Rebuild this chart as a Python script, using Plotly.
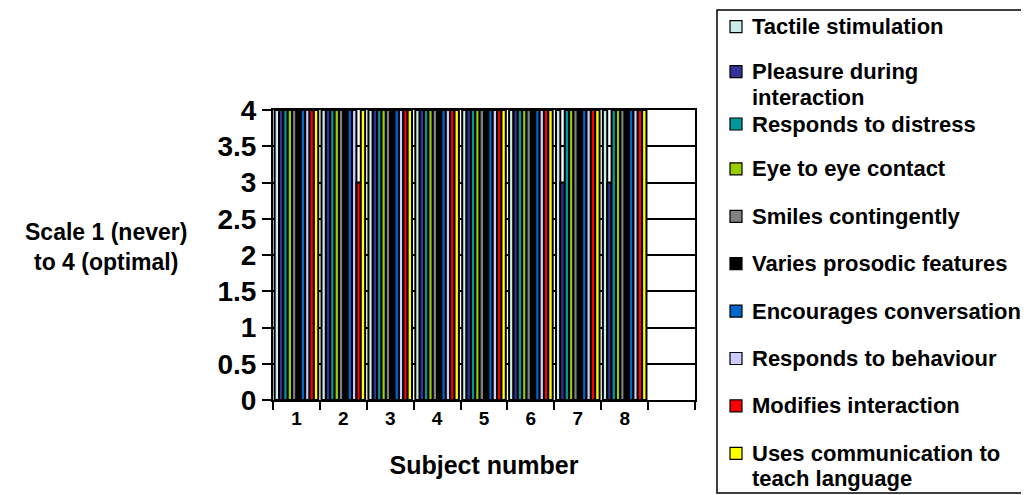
import plotly.graph_objects as go

subjects = ["1", "2", "3", "4", "5", "6", "7", "8"]
axis_categories = ["1", "2", "3", "4", "5", "6", "7", "8", " "]

series_names = [
    "Tactile stimulation",
    "Pleasure during<br>interaction",
    "Responds to distress",
    "Eye to eye contact",
    "Smiles contingently",
    "Varies prosodic features",
    "Encourages conversation",
    "Responds to behaviour",
    "Modifies interaction",
    "Uses communication to<br>teach language",
]
series_colors = ["#CCECEC", "#333399", "#009999", "#99CC00", "#808080",
                 "#000000", "#0066CC", "#CCCCFF", "#FF0000", "#FFFF00"]

tactile = [4, 4, 4, 4, 4, 4, 4, 4]
pleasure = [4, 4, 4, 4, 4, 4, 3, 3]
distress = [4, 4, 4, 4, 4, 4, 4, 4]
eye_contact = [4, 4, 4, 4, 4, 4, 4, 4]
smiles = [4, 4, 4, 4, 4, 4, 4, 4]
prosodic = [4, 4, 4, 4, 4, 4, 4, 4]
encourages = [4, 4, 4, 4, 4, 4, 4, 4]
behaviour = [4, 4, 4, 4, 4, 4, 4, 4]
modifies = [4, 3, 4, 4, 4, 4, 4, 4]
teach_language = [4, 4, 4, 4, 4, 4, 4, 4]

all_values = [tactile, pleasure, distress, eye_contact, smiles, prosodic,
              encourages, behaviour, modifies, teach_language]

y_ticks = [0, 0.5, 1, 1.5, 2, 2.5, 3, 3.5, 4]
y_ticktext = ["0", "0.5", "1", "1.5", "2", "2.5", "3", "3.5", "4"]

FONT = "Liberation Sans, Arial, sans-serif"

# page geometry (the page body adds an 8px offset)
OFF = 8
PL, PR, PT, PB = 273, 695, 110, 400          # plot area in page pixels
FIG_W, FIG_H = 1029 - OFF, 495 - OFF
PW, PH = PR - PL, PB - PT


def px(xp):
    return (xp - PL) / PW


def py(yp):
    return (PB - yp) / PH


fig = go.Figure()
for name, color, vals in zip(series_names, series_colors, all_values):
    fig.add_trace(go.Bar(
        x=subjects, y=vals, name=name.replace("<br>", " "), showlegend=False,
        marker=dict(color=color, line=dict(color="black", width=2)),
    ))

# hand-drawn legend box (matches the reference's fixed item spacing)
shapes = [dict(type="rect", xref="paper", yref="paper",
               x0=px(717), x1=px(1040), y0=py(493), y1=py(10),
               line=dict(color="black", width=1.5), fillcolor="rgba(0,0,0,0)",
               layer="above")]
annotations = []
LEG_TOP, LEG_STEP, LINE_GAP, NUDGE = 26.7, 47.4, 25.5, 2.5
LEG_FONT = dict(family=FONT, size=22, color="black", weight="bold")
prev_multi = False
for i, (name, color) in enumerate(zip(series_names, series_colors)):
    lines = name.split("<br>")
    multi = len(lines) > 1 and i < len(series_names) - 1
    yc = LEG_TOP + i * LEG_STEP - (NUDGE if multi else 0) + (NUDGE if prev_multi else 0)
    prev_multi = multi
    shapes.append(dict(type="rect", xref="paper", yref="paper",
                       x0=px(730), x1=px(742), y0=py(yc + 6), y1=py(yc - 6),
                       line=dict(color="black", width=1.2), fillcolor=color))
    for j, line in enumerate(lines):
        annotations.append(dict(
            text=line, xref="paper", yref="paper", x=px(750),
            y=py(yc + j * LINE_GAP), xanchor="left", yanchor="middle",
            showarrow=False, align="left", font=LEG_FONT,
        ))

annotations.append(dict(
    text="Scale 1 (never)<br>to 4 (optimal)", xref="paper", yref="paper",
    x=px(106), y=py(247), xanchor="center", yanchor="middle", showarrow=False,
    align="center",
    font=dict(family=FONT, size=23, color="black", weight="bold"),
))

fig.update_layout(
    width=FIG_W, height=FIG_H,
    barmode="group", bargap=0.07, bargroupgap=0,
    plot_bgcolor="white", paper_bgcolor="white",
    margin=dict(l=PL - OFF, r=FIG_W - (PR - OFF), t=PT - OFF,
                b=FIG_H - (PB - OFF), autoexpand=False),
    font=dict(family=FONT, color="black", weight="bold"),
    showlegend=False,
    xaxis=dict(
        type="category", categoryorder="array", categoryarray=axis_categories,
        range=[-0.5, 8.5], tickson="boundaries", ticks="outside", ticklen=8,
        tickwidth=1.5, tickcolor="black",
        showline=True, linecolor="black", linewidth=2, mirror=True,
        showgrid=False, zeroline=False,
        tickfont=dict(family=FONT, size=19, color="black", weight="bold"),
        title=dict(text="Subject number", standoff=29,
                   font=dict(family=FONT, size=25, color="black", weight="bold")),
    ),
    yaxis=dict(
        range=[0, 4], tickvals=y_ticks, ticktext=y_ticktext,
        ticks="outside", ticklen=9, tickwidth=1.5, tickcolor="black",
        showline=True, linecolor="black", linewidth=2, mirror=True,
        showgrid=True, gridcolor="black", gridwidth=1.5, zeroline=False,
        tickfont=dict(family=FONT, size=28, color="black", weight="bold"),
    ),
    shapes=shapes,
    annotations=annotations,
)

fig.write_html("out.html")
